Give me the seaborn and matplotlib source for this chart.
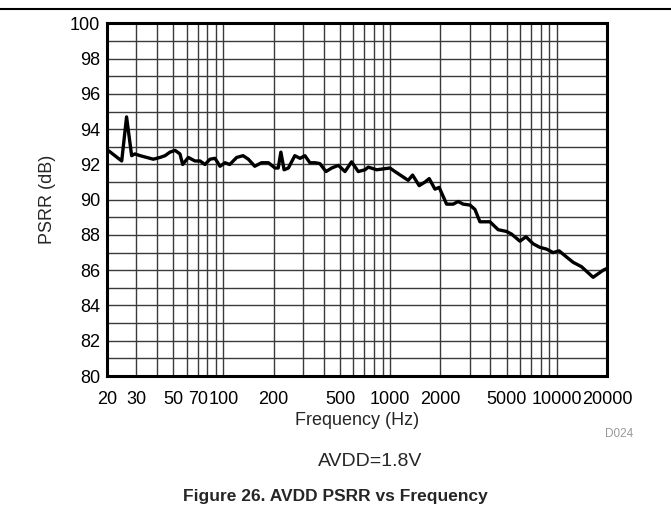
import pandas as pd
import seaborn as sns
import matplotlib.pyplot as plt
import matplotlib.ticker as mticker
from matplotlib.lines import Line2D

freq_hz = [20.3, 24.5, 26.2, 28.1, 29.4, 31.6, 37.9, 41.6, 44.6, 47.7,
           51.2, 54.8, 56.9, 61.5, 67.4, 72.3, 77.4, 83.0, 88.9, 95.3,
           102, 109, 120, 131, 141, 154, 169, 186, 204, 213,
           221, 231, 245, 268, 288, 308, 330, 354, 379, 412,
           446, 489, 536, 587, 644, 706, 740, 830, 908, 997,
           1069, 1172, 1283, 1364, 1494, 1617, 1716, 1858, 1969, 2183,
           2390, 2560, 2744, 3012, 3228, 3459, 3972, 4450, 5000, 5357,
           6011, 6533, 7217, 7913, 8685, 9509, 10330, 11450, 12540, 14080,
           16530, 18980, 20000]
psrr_db = [92.8, 92.2, 94.7, 92.5, 92.6, 92.5, 92.3, 92.4, 92.5, 92.7,
           92.8, 92.6, 92.0, 92.4, 92.2, 92.2, 92.0, 92.3, 92.35, 91.9,
           92.1, 92.0, 92.4, 92.5, 92.3, 91.9, 92.1, 92.1, 91.8, 91.8,
           92.7, 91.7, 91.8, 92.5, 92.35, 92.5, 92.1, 92.1, 92.05, 91.6,
           91.8, 91.95, 91.6, 92.15, 91.6, 91.7, 91.85, 91.7, 91.75, 91.8,
           91.6, 91.35, 91.1, 91.4, 90.8, 91.0, 91.2, 90.6, 90.7, 89.75,
           89.75, 89.9, 89.75, 89.7, 89.45, 88.75, 88.75, 88.3, 88.2, 88.05,
           87.65, 87.9, 87.5, 87.3, 87.2, 87.0, 87.1, 86.75, 86.45, 86.2,
           85.6, 86.0, 86.1]

xticks = [20, 30, 50, 70, 100, 200, 500, 1000, 2000, 5000, 10000, 20000]
yticks = list(range(80, 101, 2))

df = pd.DataFrame({"freq": freq_hz, "psrr": psrr_db})

sns.set_theme(style="white")
plt.rcParams["font.family"] = ["Liberation Sans", "DejaVu Sans"]

fig = plt.figure(figsize=(6.71, 5.15), dpi=100)
ax = fig.add_axes([0.1595, 0.2699, 0.745, 0.6845])

sns.lineplot(data=df, x="freq", y="psrr", color="black", linewidth=2.4, ax=ax, sort=False)

ax.set_xscale("log")
ax.set_xlim(20, 20000)
ax.set_ylim(80, 100)
ax.xaxis.set_major_locator(mticker.FixedLocator(xticks))
ax.xaxis.set_major_formatter(mticker.FixedFormatter([str(t) for t in xticks]))
ax.xaxis.set_minor_locator(mticker.LogLocator(base=10, subs=range(2, 10)))
ax.xaxis.set_minor_formatter(mticker.NullFormatter())
ax.set_yticks(yticks)
ax.yaxis.set_minor_locator(mticker.MultipleLocator(1))

ax.grid(True, which="both", axis="both", color="#3a3a3a", linewidth=1.0)
ax.tick_params(axis="both", which="both", length=0, labelsize=13, colors="black")
ax.tick_params(axis="x", pad=11)
ax.tick_params(axis="y", pad=5)

for s in ax.spines.values():
    s.set_color("black")
    s.set_linewidth(2.2)

ax.set_xlabel("Frequency (Hz)", fontsize=13, labelpad=3)
ax.set_ylabel("PSRR (dB)", fontsize=13, labelpad=10)

fig.text(0.943, 1 - 434 / 515, "D024", fontsize=8.5, color="#999999", ha="right", va="center")
fig.text(0.552, 1 - 461 / 515, "AVDD=1.8V", fontsize=14, ha="center", va="center")
fig.text(0.5, 1 - 496 / 515, "Figure 26. AVDD PSRR vs Frequency", fontsize=12.5,
         fontweight="bold", ha="center", va="center")
fig.add_artist(Line2D([0, 1], [1 - 9 / 515] * 2, color="black", linewidth=1.5,
                      transform=fig.transFigure))

fig.savefig("out.png", dpi=100)
